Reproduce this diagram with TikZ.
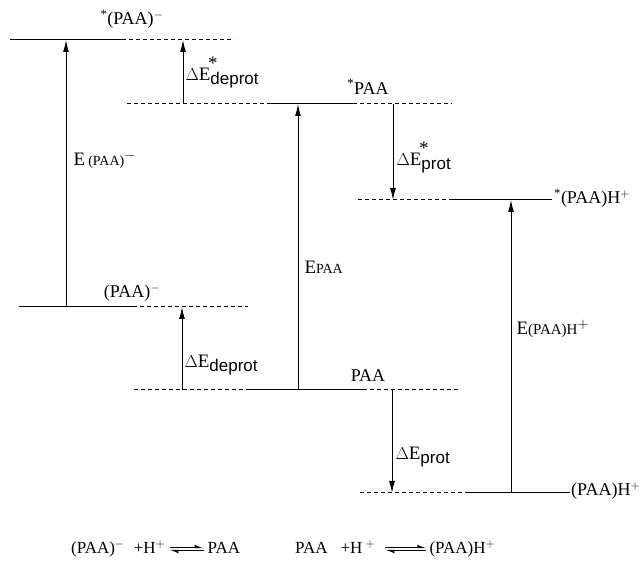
\documentclass[tikz,border=0pt]{standalone}
\usepackage{amsmath, amssymb}
\usepackage{mathtools}
\usepackage{fontspec}
\setmainfont{Liberation Serif}
\newfontfamily\subfont{Liberation Sans}
\usetikzlibrary{arrows.meta}
% small capitals of the species names and the subscripts of the gaps
\newcommand{\spc}[1]{{\fontsize{14}{14}\selectfont #1}}
\newcommand{\lowsub}[1]{\raisebox{-4pt}{\subfont\fontsize{17}{17}\selectfont #1}}
\newcommand{\starsub}[1]{\raisebox{-4pt}{\subfont\fontsize{17}{17}\selectfont #1}}

\begin{document}
\begin{tikzpicture}[x=1pt, y=-1pt,
        level/.style={line width=1pt},
        aux/.style={line width=1pt, dash pattern=on 4pt off 3pt},
        gap/.style={line width=1pt, -{Latex[length=12pt, width=6pt]}},
        harp/.style={line width=1.1pt, -{Latex[harpoon, length=7pt, width=6pt]}},
        lab/.style={font=\fontsize{18}{20}\selectfont, inner sep=1pt},
        glab/.style={font=\fontsize{19}{21}\selectfont, inner sep=1pt},
        star/.style={font=\fontsize{19}{21}\selectfont, inner sep=0pt},
        eqn/.style={font=\fontsize{17}{19}\selectfont, inner sep=1pt}]
        \useasboundingbox (0, 0) rectangle (641, 561);
        % levels: deprotonated, neutral, protonated
        \coordinate (an*) at (66, 40);   \coordinate (an) at (66, 307);
        \coordinate (n*) at (298, 104);  \coordinate (n) at (298, 390);
        \coordinate (cat*) at (511, 200); \coordinate (cat) at (511, 493);
        \draw[level] (10, 40) -- (122, 40);
        \draw[aux] (122, 40) -- (234, 40);
        \draw[aux] (127, 104) -- (270, 104);
        \draw[level] (270, 104) -- (353, 104);
        \draw[aux] (353, 104) -- (452, 104);
        \draw[aux] (358, 200) -- (452, 200);
        \draw[level] (452, 200) -- (552, 200);
        \draw[level] (19, 307) -- (133, 307);
        \draw[aux] (133, 307) -- (248, 307);
        \draw[aux] (134, 390) -- (248, 390);
        \draw[level] (248, 390) -- (363, 390);
        \draw[aux] (363, 390) -- (460, 390);
        \draw[aux] (360, 493) -- (465, 493);
        \draw[level] (465, 493) -- (570, 493);
        \node[lab] (anstar) at (132, 19) {\textsuperscript{*}(PAA)$^{-}$};
        \node[lab] (nstar) at (368, 87) {\textsuperscript{*}PAA};
        \node[lab, anchor=west] (catstar) at (553, 198) {\textsuperscript{*}(PAA)H$^{+}$};
        \node[lab] (anion) at (132, 293) {(PAA)$^{-}$};
        \node[lab] (neutral) at (368, 376) {PAA};
        \node[lab, anchor=west] (cation) at (570, 491) {(PAA)H$^{+}$};
        % gaps
        \coordinate (d1a) at (183, 104); \coordinate (d1b) at (183, 40);
        \coordinate (p1a) at (393, 104); \coordinate (p1b) at (393, 200);
        \coordinate (d0a) at (182, 390); \coordinate (d0b) at (182, 307);
        \coordinate (p0a) at (392, 390); \coordinate (p0b) at (392, 493);
        \draw[gap] (an) -- node[glab, right=6pt, pos=0.55] {E\,\spc{(PAA)}$^{-}$} (an*);
        \draw[gap] (n) -- node[glab, right=5pt, pos=0.43] {E\spc{PAA}} (n*);
        \draw[gap] (cat) -- node[glab, right=4pt, pos=0.56] {E{\fontsize{15}{15}\selectfont(PAA)H}$^{+}$} (cat*);
        \draw[gap] (d1a) -- node[glab, right=1pt, pos=0.4] (ddstar) {$\Delta$E\starsub{deprot}} (d1b);
        \draw[gap] (p1a) -- node[glab, right=2pt, pos=0.62] (dpstar) {$\Delta$E\starsub{prot}} (p1b);
        \node[star, anchor=south west] at ([xshift=24pt, yshift=-3pt]ddstar.north west) {*};
        \node[star, anchor=south west] at ([xshift=24pt, yshift=-3pt]dpstar.north west) {*};
        \draw[gap] (d0a) -- node[glab, right=1pt, pos=0.3] {$\Delta$E\lowsub{deprot}} (d0b);
        \draw[gap] (p0a) -- node[glab, right=2pt, pos=0.65] {$\Delta$E\lowsub{prot}} (p0b);
        % equilibria
        \node[eqn, anchor=base west] (lhsa) at (70, 554) {(PAA)$^{-}$\hspace{9pt}+H$^{+}$};
        \node[eqn, anchor=base west] (rhsa) at ([xshift=40pt]lhsa.base east) {PAA};
        \node[eqn, anchor=base west] (lhsb) at (294, 554) {PAA\hspace{13pt}+H\hspace{3pt}$^{+}$};
        \node[eqn, anchor=base west] (rhsb) at ([xshift=52pt]lhsb.base east) {(PAA)H$^{+}$};
        \coordinate (fa0) at ([shift={(3pt, 6.5pt)}]lhsa.base east);
        \coordinate (fa1) at ([shift={(-3pt, 6.5pt)}]rhsa.base west);
        \coordinate (ba0) at ([shift={(3pt, 3.5pt)}]lhsa.base east);
        \coordinate (ba1) at ([shift={(-3pt, 3.5pt)}]rhsa.base west);
        \coordinate (fb0) at ([shift={(9pt, 6.5pt)}]lhsb.base east);
        \coordinate (fb1) at ([shift={(-2pt, 6.5pt)}]rhsb.base west);
        \coordinate (bb0) at ([shift={(9pt, 3.5pt)}]lhsb.base east);
        \coordinate (bb1) at ([shift={(-2pt, 3.5pt)}]rhsb.base west);
        \draw[harp] (fa0) -- (fa1);
        \draw[harp] (ba1) -- (ba0);
        \draw[harp] (fb0) -- (fb1);
        \draw[harp] (bb1) -- (bb0);
\end{tikzpicture}
\end{document}
